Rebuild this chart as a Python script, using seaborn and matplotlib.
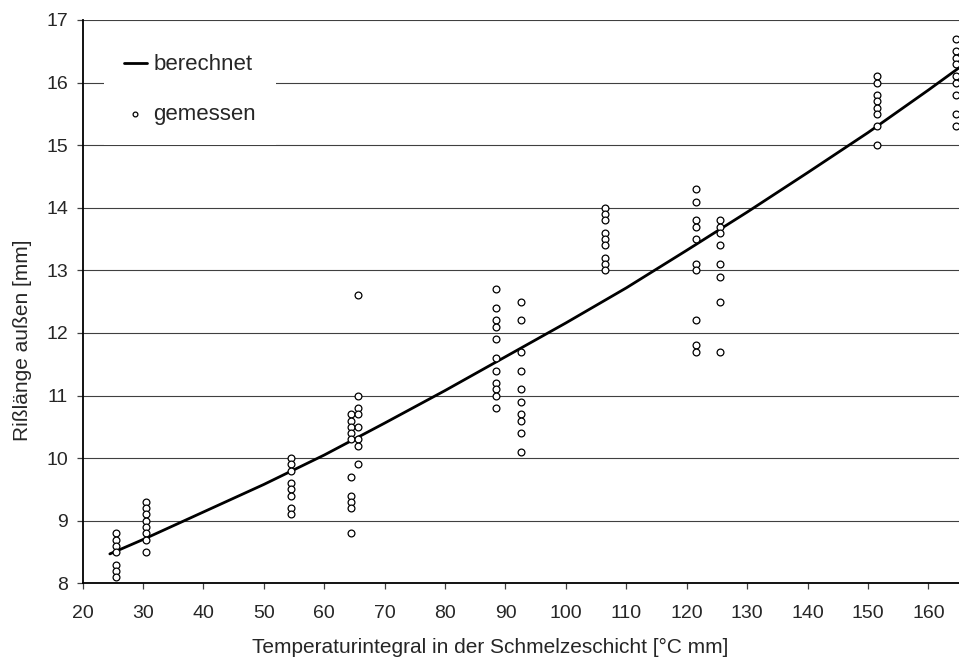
import matplotlib
matplotlib.use("Agg")
import matplotlib.pyplot as plt
import seaborn as sns
import pandas as pd

# calculated curve ("berechnet")
calc_x = [24.5, 30, 40, 50, 60, 70, 80, 90, 100, 110, 120, 130, 140, 150, 160, 165]
calc_y = [8.47, 8.70, 9.14, 9.58, 10.05, 10.56, 11.08, 11.62, 12.16, 12.72, 13.32, 13.93, 14.56, 15.20, 15.88, 16.23]

# measured points ("gemessen"), grouped by x position
g_x = [25.5, 30.5, 54.5, 64.5, 65.5, 88.5, 92.5, 106.5, 121.5, 125.5, 151.5, 164.5]
g_y = [
    [8.8, 8.7, 8.6, 8.5, 8.3, 8.2, 8.1],
    [9.3, 9.2, 9.1, 9.0, 8.9, 8.8, 8.7, 8.5],
    [10.0, 9.9, 9.8, 9.6, 9.5, 9.4, 9.2, 9.1],
    [10.7, 10.6, 10.5, 10.4, 10.3, 9.7, 9.4, 9.3, 9.2, 8.8],
    [12.6, 11.0, 10.8, 10.7, 10.5, 10.3, 10.2, 9.9],
    [12.7, 12.4, 12.2, 12.1, 11.9, 11.6, 11.4, 11.2, 11.1, 11.0, 10.8],
    [12.5, 12.2, 11.7, 11.4, 11.1, 10.9, 10.7, 10.6, 10.4, 10.1],
    [14.0, 13.9, 13.8, 13.6, 13.5, 13.4, 13.2, 13.1, 13.0],
    [14.3, 14.1, 13.8, 13.7, 13.5, 13.1, 13.0, 12.2, 11.8, 11.7],
    [13.8, 13.7, 13.6, 13.4, 13.1, 12.9, 12.5, 11.7],
    [16.1, 16.0, 15.8, 15.7, 15.6, 15.5, 15.3, 15.0],
    [16.7, 16.5, 16.4, 16.3, 16.1, 16.0, 15.8, 15.5, 15.3],
]

x_ticks = list(range(20, 161, 10))
y_ticks = list(range(8, 18))

sns.set_style("white")
plt.rcParams['font.family'] = ['Liberation Sans', 'DejaVu Sans']

calc_df = pd.DataFrame({"x": calc_x, "y": calc_y})
meas_df = pd.DataFrame({
    "x": [gx for gx, ys in zip(g_x, g_y) for _ in ys],
    "y": [y for ys in g_y for y in ys],
})

fig = plt.figure(figsize=(9.59, 6.64), dpi=100)
ax = fig.add_axes([0.0862, 0.1215, 0.9133, 0.8484])

for t in y_ticks:
    ax.axhline(t, color="#404040", lw=0.8, zorder=0)

sns.lineplot(data=calc_df, x="x", y="y", ax=ax, color="black", lw=2.0,
             label="berechnet", zorder=3)
sns.scatterplot(data=meas_df, x="x", y="y", ax=ax, marker="o", s=24,
                facecolor="white", edgecolor="black", linewidth=0.9,
                label="gemessen", zorder=4)

ax.set_xlim(20, 165)
ax.set_ylim(8, 17)
ax.set_xticks(x_ticks)
ax.set_yticks(y_ticks)
ax.tick_params(axis="both", which="major", direction="out", length=4.5,
               width=0.9, color="#404040", labelsize=14,
               bottom=True, left=True)
ax.tick_params(axis="x", pad=11)
ax.tick_params(axis="y", pad=6)
for s in ["top", "right"]:
    ax.spines[s].set_visible(False)
for s in ["left", "bottom"]:
    ax.spines[s].set_color("black")
    ax.spines[s].set_linewidth(1.3)

ax.set_xlabel("Temperaturintegral in der Schmelzeschicht [°C mm]", fontsize=15)
ax.set_ylabel("Rißlänge außen [mm]", fontsize=15)
ax.xaxis.set_label_coords(0.465, -0.097)
ax.yaxis.set_label_coords(-0.058, 0.432)

handles, labels = ax.get_legend_handles_labels()
leg = ax.legend(handles, labels, loc="upper left", bbox_to_anchor=(0.012, 0.994),
                fontsize=16, frameon=True, facecolor="white", edgecolor="none",
                framealpha=1.0, fancybox=False, handlelength=1.0,
                handletextpad=0.3, labelspacing=1.27, borderpad=0.9,
                markerscale=0.7)
leg.set_zorder(5)

fig.savefig("out.png", dpi=100)
